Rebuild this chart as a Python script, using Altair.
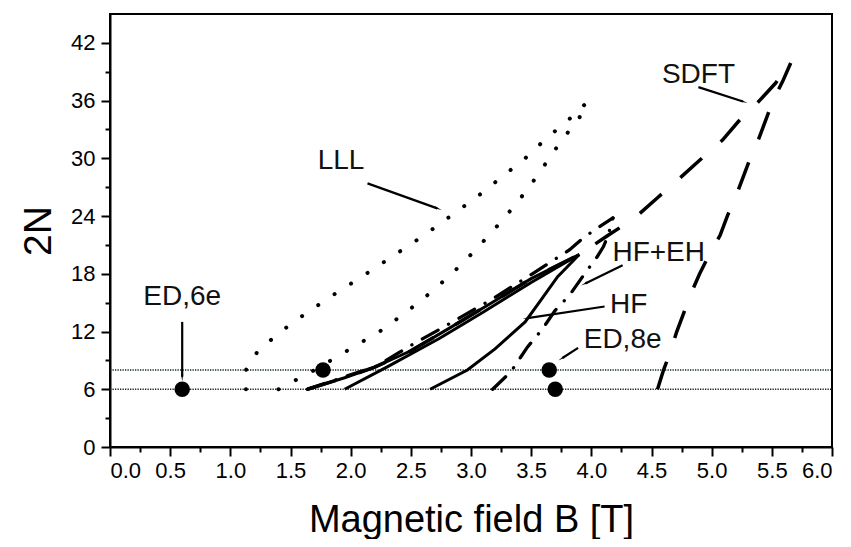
import math
import altair as alt
import pandas as pd

# ---------------- data ----------------
x_major = [0.0, 0.5, 1.0, 1.5, 2.0, 2.5, 3.0, 3.5, 4.0, 4.5, 5.0, 5.5, 6.0]
x_minor = [0.25, 0.75, 1.25, 1.75, 2.25, 2.75, 3.25, 3.75, 4.25, 4.75, 5.25, 5.75]
y_major = [0, 6, 12, 18, 24, 30, 36, 42]
y_minor = [3, 9, 15, 21, 27, 33, 39]

# LLL (dotted)
lll_upper_B = [1.13, 1.13, 1.23, 1.42, 1.64, 1.88, 2.13, 2.37, 2.61, 2.83, 3.05, 3.25, 3.45, 3.62, 3.81, 3.98]
lll_upper_N = [6, 8, 10, 12, 14, 16, 18, 20, 22, 24, 26, 28, 30, 32, 34, 36]
lll_lower_B = [1.40, 1.70, 1.97, 2.24, 2.46, 2.66, 2.84, 3.00, 3.15, 3.29, 3.42, 3.54, 3.65, 3.76, 3.89, 3.98]
lll_lower_N = [6, 8, 10, 12, 14, 16, 18, 20, 22, 24, 26, 28, 30, 32, 34, 36]

# HF (solid)
hf1_B = [1.64, 1.95, 2.20, 2.50, 2.80, 3.20, 3.50, 3.90]
hf1_N = [6.0, 7.2, 8.3, 10.0, 12.2, 15.2, 17.5, 20.0]
hf2_B = [1.95, 2.30, 2.74, 3.10, 3.50, 3.90]
hf2_N = [6.0, 8.3, 11.3, 14.0, 17.1, 20.0]
hf3_B = [2.66, 2.97, 3.20, 3.45, 3.60, 3.72, 3.90]
hf3_N = [6.0, 8.0, 10.2, 13.0, 15.6, 17.7, 20.0]

# HF+EH (dash-dot)
hfeh1_B = [1.64, 1.95, 2.20, 2.40, 2.52, 2.72, 2.93, 3.18, 3.51, 3.82, 3.92, 4.02, 4.18]
hfeh1_N = [6.0, 7.3, 8.3, 9.8, 10.7, 12.1, 13.6, 15.4, 18.0, 20.5, 21.6, 22.5, 23.8]
hfeh2_B = [3.18, 3.33, 3.47, 3.59, 3.70, 3.82, 3.95, 4.05, 4.10, 4.14, 4.18]
hfeh2_N = [6.0, 7.8, 10.4, 12.2, 14.2, 15.8, 18.1, 19.8, 20.8, 22.0, 23.8]

# SDFT (dashed)
sdft1_B = [1.64, 1.95, 2.20, 2.50, 2.80, 3.20, 3.50, 3.90, 4.14, 4.36, 4.55, 4.74, 4.90, 5.09, 5.22, 5.39, 5.53, 5.66]
sdft1_N = [6.0, 7.2, 8.3, 10.0, 12.2, 15.2, 17.5, 20.0, 22.0, 23.8, 25.9, 28.0, 29.8, 31.9, 33.8, 35.9, 37.8, 40.0]
sdft2_B = [4.55, 4.60, 4.66, 4.71, 4.77, 4.83, 4.90, 4.98, 5.07, 5.13, 5.20, 5.26, 5.32, 5.39, 5.45, 5.51, 5.59, 5.66]
sdft2_N = [6, 8, 10, 12, 14, 16, 18, 20, 22, 24, 26, 28, 30, 32, 34, 36, 38, 40]

# horizontal reference levels
level_N = [6, 8]
level_B = [0.0, 6.0]

# exact-diagonalisation points
ed_B = [0.60, 1.77, 3.65, 3.70]
ed_N = [6, 8, 8, 6]

# labels
label_text = ["LLL", "SDFT", "HF+EH", "HF", "ED,8e", "ED,6e"]
label_B = [1.92, 4.89, 4.56, 4.31, 4.26, 0.60]
label_N = [29.7, 38.7, 20.2, 14.8, 11.1, 15.6]

# arrows (start -> end)
arrow_B1 = [2.14, 4.89, 4.26, 4.11, 3.89, 0.60]
arrow_N1 = [27.4, 37.4, 18.9, 14.6, 10.3, 13.0]
arrow_B2 = [2.72, 5.26, 3.95, 3.47, 3.76, 0.60]
arrow_N2 = [24.8, 35.9, 17.0, 13.4, 9.25, 7.3]

# ---------------- layout ----------------
W, H = 722, 433
XD, YD = [0, 6], [0, 45]
FONT = "Liberation Sans"

def curves(named):
    rows = []
    for name, (bs, ns) in named.items():
        for i, (b, n) in enumerate(zip(bs, ns)):
            rows.append({"curve": name, "i": i, "B": b, "N": n})
    return pd.DataFrame(rows)

df_lll = curves({"lll_u": (lll_upper_B, lll_upper_N), "lll_l": (lll_lower_B, lll_lower_N)})
df_hf = curves({"hf1": (hf1_B, hf1_N), "hf2": (hf2_B, hf2_N), "hf3": (hf3_B, hf3_N)})
df_hfeh = curves({"e1": (hfeh1_B, hfeh1_N), "e2": (hfeh2_B, hfeh2_N)})
df_sdft = curves({"s1": (sdft1_B, sdft1_N), "s2": (sdft2_B, sdft2_N)})
df_lev = curves({f"lev{n}": (level_B, [n, n]) for n in level_N})

df_ed = pd.DataFrame({"B": ed_B, "N": ed_N})
df_lab = pd.DataFrame({"t": label_text, "B": label_B, "N": label_N})

pxB = W / (XD[1] - XD[0])
pxN = H / (YD[1] - YD[0])
angs = []
for b1, n1, b2, n2 in zip(arrow_B1, arrow_N1, arrow_B2, arrow_N2):
    dx = (b2 - b1) * pxB
    dy = -(n2 - n1) * pxN
    angs.append(math.degrees(math.atan2(dx, -dy)) % 360)
df_arr = pd.DataFrame({"B1": arrow_B1, "N1": arrow_N1, "B2": arrow_B2, "N2": arrow_N2, "ang": angs})

xs = alt.Scale(domain=XD, nice=False, zero=False)
ys = alt.Scale(domain=YD, nice=False, zero=False)

x_axis = alt.Axis(values=x_major, format=".1f", labelFontSize=22, labelFont=FONT, labelColor="black",
                  tickSize=9, tickWidth=2, tickColor="black", domainWidth=2, domainColor="black",
                  labelPadding=4, grid=False, title="Magnetic field B [T]", titleFont=FONT,
                  titleFontSize=38, titleFontWeight="normal", titleColor="black",
                  titleBaseline="alphabetic", titleY=84, orient="bottom")
y_axis = alt.Axis(values=y_major, labelFontSize=22, labelFont=FONT, labelColor="black",
                  tickSize=9, tickWidth=2, tickColor="black", domainWidth=2, domainColor="black",
                  labelPadding=6, grid=False, title="2N", titleFont=FONT, titleFontSize=39,
                  titleFontWeight="normal", titleColor="black", titleAngle=270,
                  titleBaseline="alphabetic", titleX=-60, orient="left")

XN = alt.X("B:Q", scale=xs, axis=None)
YN = alt.Y("N:Q", scale=ys, axis=None)

lev = alt.Chart(df_lev).mark_line(color="#142626", strokeWidth=1.4, strokeDash=[1.3, 1.2]).encode(
    x=alt.X("B:Q", scale=xs, axis=x_axis), y=alt.Y("N:Q", scale=ys, axis=y_axis),
    detail="curve:N", order="i:Q")

lll = alt.Chart(df_lll).mark_line(color="black", strokeWidth=4, strokeCap="round",
                                  strokeDash=[0.1, 19.5]).encode(
    x=XN, y=YN, detail="curve:N", order="i:Q")

hf = alt.Chart(df_hf).mark_line(color="black", strokeWidth=3).encode(
    x=XN, y=YN, detail="curve:N", order="i:Q")

hfeh = alt.Chart(df_hfeh).mark_line(color="black", strokeWidth=3.3, strokeCap="round",
                                    strokeDash=[18, 12, 0.1, 12]).encode(
    x=XN, y=YN, detail="curve:N", order="i:Q")

sdft = alt.Chart(df_sdft).mark_line(color="black", strokeWidth=3.5, strokeDash=[29, 25]).encode(
    x=XN, y=YN, detail="curve:N", order="i:Q")

dots = alt.Chart(df_ed).mark_point(filled=True, color="black", opacity=1, size=240).encode(
    x=XN, y=YN)

arr = alt.Chart(df_arr).mark_rule(color="black", strokeWidth=2.2).encode(
    x=alt.X("B1:Q", scale=xs, axis=None), y=alt.Y("N1:Q", scale=ys, axis=None), x2="B2:Q", y2="N2:Q")

heads = alt.Chart(df_arr).mark_point(shape="wedge", filled=True, color="black", opacity=1, size=70).encode(
    x=alt.X("B2:Q", scale=xs, axis=None), y=alt.Y("N2:Q", scale=ys, axis=None),
    angle=alt.Angle("ang:Q", scale=None))

labels = alt.Chart(df_lab).mark_text(font=FONT, fontSize=28, color="#111111", align="center",
                                     baseline="middle").encode(
    x=XN, y=YN, text="t:N")

# minor ticks
df_xm = pd.DataFrame({"B": x_minor, "N": [0] * len(x_minor)})
minor = alt.Chart(df_xm).mark_point(opacity=0).encode(
    x=alt.X("B:Q", scale=xs, axis=alt.Axis(values=x_minor, labels=False, tickSize=5, tickWidth=2,
                                           tickColor="black", domain=False, grid=False, title="",
                                           orient="bottom")),
    y=alt.Y("N:Q", scale=ys, axis=alt.Axis(values=y_minor, labels=False, tickSize=5, tickWidth=2,
                                           tickColor="black", domain=False, grid=False, title="",
                                           orient="left")))

chart = alt.layer(lev, lll, hf, hfeh, sdft, dots, arr, heads, labels, minor).resolve_axis(
    x="independent", y="independent"
).properties(
    width=W, height=H,
    autosize=alt.AutoSizeParams(type="none"),
    padding={"left": 102, "top": 6, "right": 10, "bottom": 92},
    background="white",
).configure_view(stroke="black", strokeWidth=2)

chart.save("out.html", embed_options={"renderer": "svg", "actions": False})
